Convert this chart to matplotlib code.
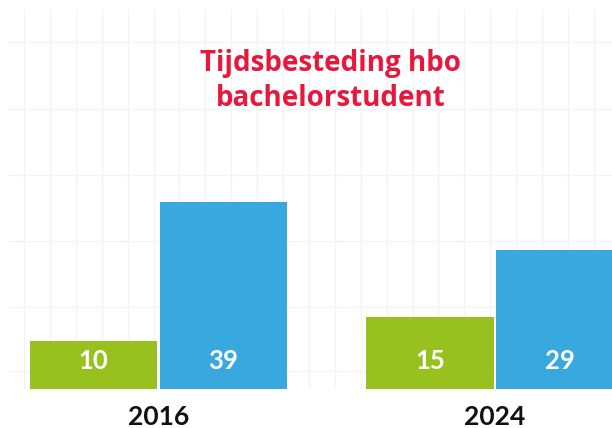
import numpy as np
import matplotlib
matplotlib.use('Agg')
from matplotlib import pyplot as plt

years = ['2016', '2024']
series_names = ['zelfstudie', 'contacturen']
green_values = [10, 15]
blue_values = [39, 29]

title = 'Tijdsbesteding hbo\nbachelorstudent'
green = '#96c11f'
blue = '#38a8df'
red = '#e8173c'
grid_color = '#f3f3f3'

W, H = 612, 428
fig = plt.figure(figsize=(W / 100, H / 100), dpi=100)

# decorative background grid (graph paper look)
bg = fig.add_axes([8 / W, (H - 389) / H, (W - 8) / W, (389 - 10) / H], zorder=0)
bg.set_xlim(8, W)
bg.set_ylim(389, 10)
bg.set_xticks(np.arange(24, W, 25.9))
bg.set_yticks([42, 109, 175, 241, 307, 371])
bg.grid(True, color=grid_color, linewidth=0.9)
bg.tick_params(length=0, labelbottom=False, labelleft=False)
for s in bg.spines.values():
    s.set_visible(False)
bg.patch.set_alpha(0)

# data axes
px_per_group = 336.5
g0 = 158.5
ax = fig.add_axes([0, (H - 388.7) / H, 1, 239.5 / H], zorder=1)
ax.patch.set_alpha(0)
x = np.arange(len(years))
width = 0.378
off = 0.193
bars_g = ax.bar(x - off, green_values, width, color=green, label=series_names[0])
bars_b = ax.bar(x + off, blue_values, width, color=blue, label=series_names[1])
ax.set_xlim(-g0 / px_per_group, (W - g0) / px_per_group)
ax.set_ylim(0, 50)

for bars, vals in [(bars_g, green_values), (bars_b, blue_values)]:
    for b, v in zip(bars, vals):
        ax.annotate(str(v), (b.get_x() + b.get_width() / 2, 0), xytext=(0, 20),
                    textcoords='offset points', ha='center', va='center',
                    color='white', fontsize=18.5, fontweight='bold', family='Lato')

ax.set_xticks(x)
ax.set_xticklabels(years, fontsize=19, fontweight='bold', family='Lato', color='#111111')
ax.tick_params(axis='x', length=0, pad=12)
ax.set_yticks([])
for s in ax.spines.values():
    s.set_visible(False)

fig.text(331 / W, 1 - 81 / H, title, ha='center', va='center', color=red,
         fontsize=20, fontweight='bold', family='Open Sans', linespacing=1.25)

plt.savefig('out.png', dpi=100)
